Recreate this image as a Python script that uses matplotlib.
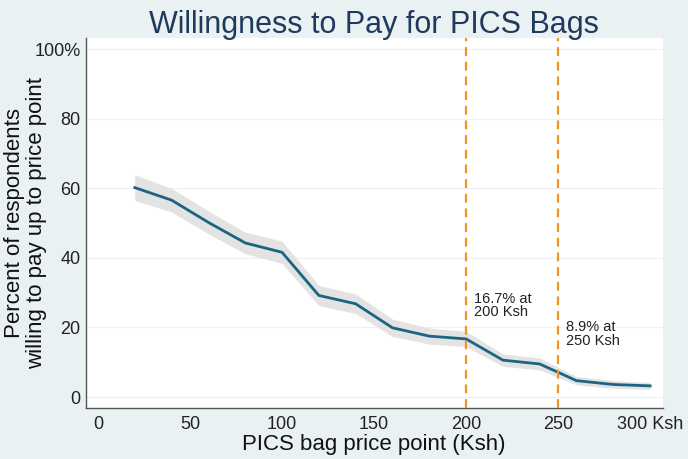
import matplotlib.pyplot as plt
import numpy as np

# data
price = [20, 40, 60, 80, 100, 120, 140, 160, 180, 200, 220, 240, 260, 280, 300]
pct = [60.2, 56.6, 50.2, 44.3, 41.6, 29.2, 26.8, 19.9, 17.5, 16.7, 10.6, 9.5, 4.7, 3.6, 3.2]
ci_low = [56.5, 53.2, 46.9, 41.2, 38.4, 26.3, 24.0, 17.4, 15.2, 14.5, 8.8, 7.8, 3.5, 2.5, 2.2]
ci_high = [63.9, 60.0, 53.5, 47.4, 44.8, 32.1, 29.6, 22.4, 19.8, 18.9, 12.4, 11.2, 5.9, 4.7, 4.2]
xticks = [0, 50, 100, 150, 200, 250, 300]
xticklabels = ["0", "50", "100", "150", "200", "250", "300 Ksh"]
yticks = [0, 20, 40, 60, 80, 100]
yticklabels = ["0", "20", "40", "60", "80", "100%"]
marks = [200, 250]
notes = ["16.7% at\n200 Ksh", "8.9% at\n250 Ksh"]
note_pos = [(204.5, 30.3), (254.5, 22.0)]

plt.rcParams['font.family'] = ['Liberation Sans', 'DejaVu Sans']

bg = '#eaf1f3'
fig = plt.figure(figsize=(6.88, 4.59), dpi=100, facecolor=bg)
ax = fig.add_axes([0.125, 0.1111, 0.8387, 0.806])
ax.set_facecolor('white')

ax.fill_between(price, ci_low, ci_high, color='#e3e3e3', lw=0, zorder=2)
ax.plot(price, pct, color='#1b6482', lw=2, zorder=3)

for m in marks:
    ax.axvline(m, color='#f39420', lw=1.6, ls=(0, (4, 2.6)), zorder=4)
for t, (x, y) in zip(notes, note_pos):
    ax.text(x, y, t, fontsize=10.5, color='#222222', va='top', ha='left',
            linespacing=0.95, zorder=5)

ax.set_xlim(-6.5, 307)
ax.set_ylim(-3.16, 103.2)
ax.set_xticks(xticks)
ax.set_xticklabels(xticklabels)
ax.set_yticks(yticks)
ax.set_yticklabels(yticklabels)
ax.tick_params(length=0, labelsize=13, colors='#222222')
ax.tick_params(axis='x', pad=5.5)
ax.tick_params(axis='y', pad=4)
ax.grid(axis='y', color='#f0f0f0', lw=0.8, zorder=0)
for s in ['top', 'right']:
    ax.spines[s].set_visible(False)
for s in ['left', 'bottom']:
    ax.spines[s].set_color('#555555')
    ax.spines[s].set_linewidth(1)

fig.text(0.5436, 0.0196, "PICS bag price point (Ksh)", fontsize=16, color='#111111',
         ha='center', va='baseline')
fig.text(0.037, 0.514, "Percent of respondents\nwilling to pay up to price point", fontsize=16,
         color='#111111', rotation=90, ha='center', va='center', linespacing=1.1)
fig.text(0.5436, 0.928, "Willingness to Pay for PICS Bags", fontsize=22, color='#1e3a5c',
         ha='center', va='baseline')

fig.savefig("out.png", dpi=100, facecolor=bg)
